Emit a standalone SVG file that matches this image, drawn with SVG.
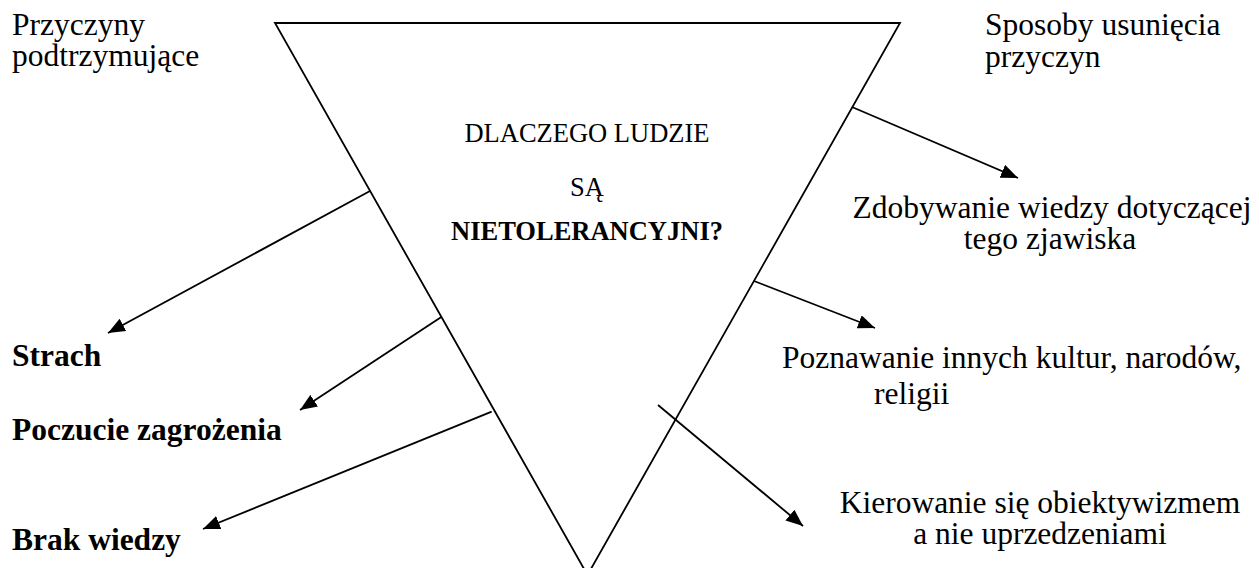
<svg xmlns="http://www.w3.org/2000/svg" width="1259" height="568" viewBox="0 0 1259 568">
<defs>
<marker id="ah" markerUnits="userSpaceOnUse" markerWidth="18" markerHeight="14" refX="17" refY="7" orient="auto">
<path d="M0,0 L17,7 L0,14 Z" fill="#000"/>
</marker>
<style>
.t{font-family:"Liberation Serif","Times New Roman",serif;font-size:31.5px;fill:#000}
.b{font-weight:bold}
.c{font-family:"Liberation Serif","Times New Roman",serif;font-size:26.5px;fill:#000;text-anchor:middle}
.m{text-anchor:middle}
.ln{stroke:#000;stroke-width:1.8;fill:none}
</style>
</defs>
<rect width="1259" height="568" fill="#fff"/>
<g id="triangle">
<path class="ln" d="M275,23 L900,23 L587.5,575 Z" stroke-width="1.6"/>
<text class="c" x="587" y="142">DLACZEGO LUDZIE</text>
<text class="c" x="587" y="196">SĄ</text>
<text class="c b" x="587" y="240">NIETOLERANCYJNI?</text>
</g>
<g id="heading-left">
<text class="t" x="12" y="35">Przyczyny</text>
<text class="t" x="12" y="66">podtrzymujące</text>
</g>
<g id="heading-right">
<text class="t" x="985" y="35">Sposoby usunięcia</text>
<text class="t" x="985" y="67">przyczyn</text>
</g>
<g id="strach"><text class="t b" x="12" y="366">Strach</text></g>
<g id="poczucie"><text class="t b" x="12" y="440">Poczucie zagrożenia</text></g>
<g id="brak"><text class="t b" x="12" y="550">Brak wiedzy</text></g>
<g id="zdobywanie">
<text class="t m" x="1052" y="218">Zdobywanie wiedzy dotyczącej</text>
<text class="t m" x="1050" y="249">tego zjawiska</text>
</g>
<g id="poznawanie">
<text class="t" x="782" y="368">Poznawanie innych kultur, narodów,</text>
<text class="t" x="874" y="404">religii</text>
</g>
<g id="kierowanie">
<text class="t m" x="1040" y="513">Kierowanie się obiektywizmem</text>
<text class="t m" x="1040" y="544">a nie uprzedzeniami</text>
</g>
<g id="connectors">
<line class="ln" x1="370" y1="191" x2="108" y2="333" marker-end="url(#ah)" stroke-width="1.4"/>
<line class="ln" x1="441.7" y1="316.7" x2="300" y2="410" marker-end="url(#ah)"/>
<line class="ln" x1="491.7" y1="411.7" x2="203" y2="529" marker-end="url(#ah)"/>
<line class="ln" x1="852" y1="107" x2="1018" y2="178" marker-end="url(#ah)"/>
<line class="ln" x1="754" y1="281" x2="875" y2="328" marker-end="url(#ah)"/>
<line class="ln" x1="658" y1="405" x2="803" y2="526" marker-end="url(#ah)"/>
</g>
</svg>
